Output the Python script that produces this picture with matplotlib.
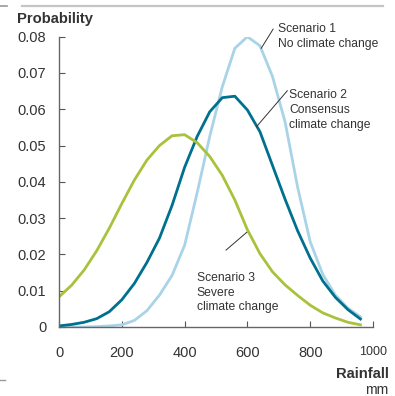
import matplotlib
matplotlib.use("Agg")
import matplotlib.pyplot as plt
from matplotlib.lines import Line2D

plt.rcParams['font.family'] = ['Liberation Sans', 'DejaVu Sans']

# Rainfall (mm) and probability for each scenario
rain = [0, 40, 80, 120, 160, 200, 240, 280, 320, 360, 400, 440, 480,
        520, 560, 600, 640, 680, 720, 760, 800, 840, 880, 920, 960]

scen1 = [0.0000, 0.0000, 0.0000, 0.0001, 0.0003, 0.0006, 0.0018, 0.0045,
         0.0088, 0.0142, 0.0225, 0.0370, 0.0525, 0.0662, 0.0768, 0.0800,
         0.0775, 0.0690, 0.0565, 0.0385, 0.0235, 0.0145, 0.0088, 0.0052,
         0.0028]
scen2 = [0.0003, 0.0007, 0.0013, 0.0023, 0.0042, 0.0075, 0.0120, 0.0178,
         0.0245, 0.0335, 0.0440, 0.0525, 0.0593, 0.0632, 0.0636, 0.0598,
         0.0538, 0.0445, 0.0352, 0.0265, 0.0190, 0.0127, 0.0082, 0.0048,
         0.0022]
scen3 = [0.0083, 0.0115, 0.0157, 0.0210, 0.0272, 0.0340, 0.0405, 0.0460,
         0.0500, 0.0527, 0.0530, 0.0508, 0.0470, 0.0418, 0.0350, 0.0268,
         0.0202, 0.0152, 0.0116, 0.0087, 0.0060, 0.0039, 0.0025, 0.0013,
         0.0006]

x_ticks = [0, 200, 400, 600, 800, 1000]
y_ticks = [0, 0.01, 0.02, 0.03, 0.04, 0.05, 0.06, 0.07, 0.08]

fig = plt.figure(figsize=(3.95, 3.96), dpi=100)
ax = fig.add_axes([59 / 395, 69 / 396, 314 / 395, 290.3 / 396])

ax.plot(rain, scen1, color='#a9d3e6', lw=2.0)
ax.plot(rain, scen2, color='#00708f', lw=2.0)
ax.plot(rain, scen3, color='#a9c23c', lw=2.0)

ax.set_xlim(0, 1000)
ax.set_ylim(0, 0.08)
ax.set_xticks(x_ticks)
ax.set_yticks(y_ticks)
ax.set_xticklabels([str(v) for v in x_ticks])
ax.set_yticklabels(['0' if v == 0 else f'{v:.2f}' for v in y_ticks])
ax.tick_params(direction='in', length=4, width=0.8, colors='#555555',
               labelcolor='#333333', labelsize=10.5)
ax.tick_params(axis='x', pad=14)
ax.tick_params(axis='y', pad=9)
ax.get_xticklabels()[-1].set_fontsize(9)

for s in ['top', 'right']:
    ax.spines[s].set_visible(False)
for s in ['left', 'bottom']:
    ax.spines[s].set_color('#666666')
    ax.spines[s].set_linewidth(1.0)

# scenario labels with leader lines
tc = '#333333'
ax.text(698, 0.0838, 'Scenario 1\nNo climate change', fontsize=8.7,
        color=tc, va='top', ha='left', linespacing=1.3)
ax.plot([644, 682], [0.0768, 0.0821], color=tc, lw=0.7, clip_on=False)

ax.text(733, 0.0655, 'Scenario 2\nConsensus\nclimate change', fontsize=8.7,
        color=tc, va='top', ha='left', linespacing=1.3)
ax.plot([629, 727], [0.0552, 0.0651], color=tc, lw=0.7)

ax.text(439, 0.0152, 'Scenario 3\nSevere\nclimate change', fontsize=8.7,
        color=tc, va='top', ha='left', linespacing=1.3)
ax.plot([532, 598], [0.0212, 0.0261], color=tc, lw=0.7)

fig.text(17 / 395, 1 - 23.5 / 396, 'Probability', fontsize=10.6,
         fontweight='bold', color='#333333', va='baseline', ha='left')
fig.text(389 / 395, 1 - 378 / 396, 'Rainfall', fontsize=10.6,
         fontweight='bold', color='#333333', va='baseline', ha='right')
fig.text(388 / 395, 1 - 393.5 / 396, 'mm', fontsize=10,
         color='#333333', va='baseline', ha='right')

# thin frame pieces of the original page
fig.add_artist(Line2D([22 / 395, 383 / 395], [1 - 5.5 / 396] * 2,
                      color='#c4c4c4', lw=1.6))
fig.add_artist(Line2D([0, 7 / 395], [1 - 5.5 / 396] * 2,
                      color='#999999', lw=1.2))
fig.add_artist(Line2D([0, 5 / 395], [1 - 380 / 396] * 2,
                      color='#999999', lw=1.0))

fig.savefig('out.png', dpi=100)
